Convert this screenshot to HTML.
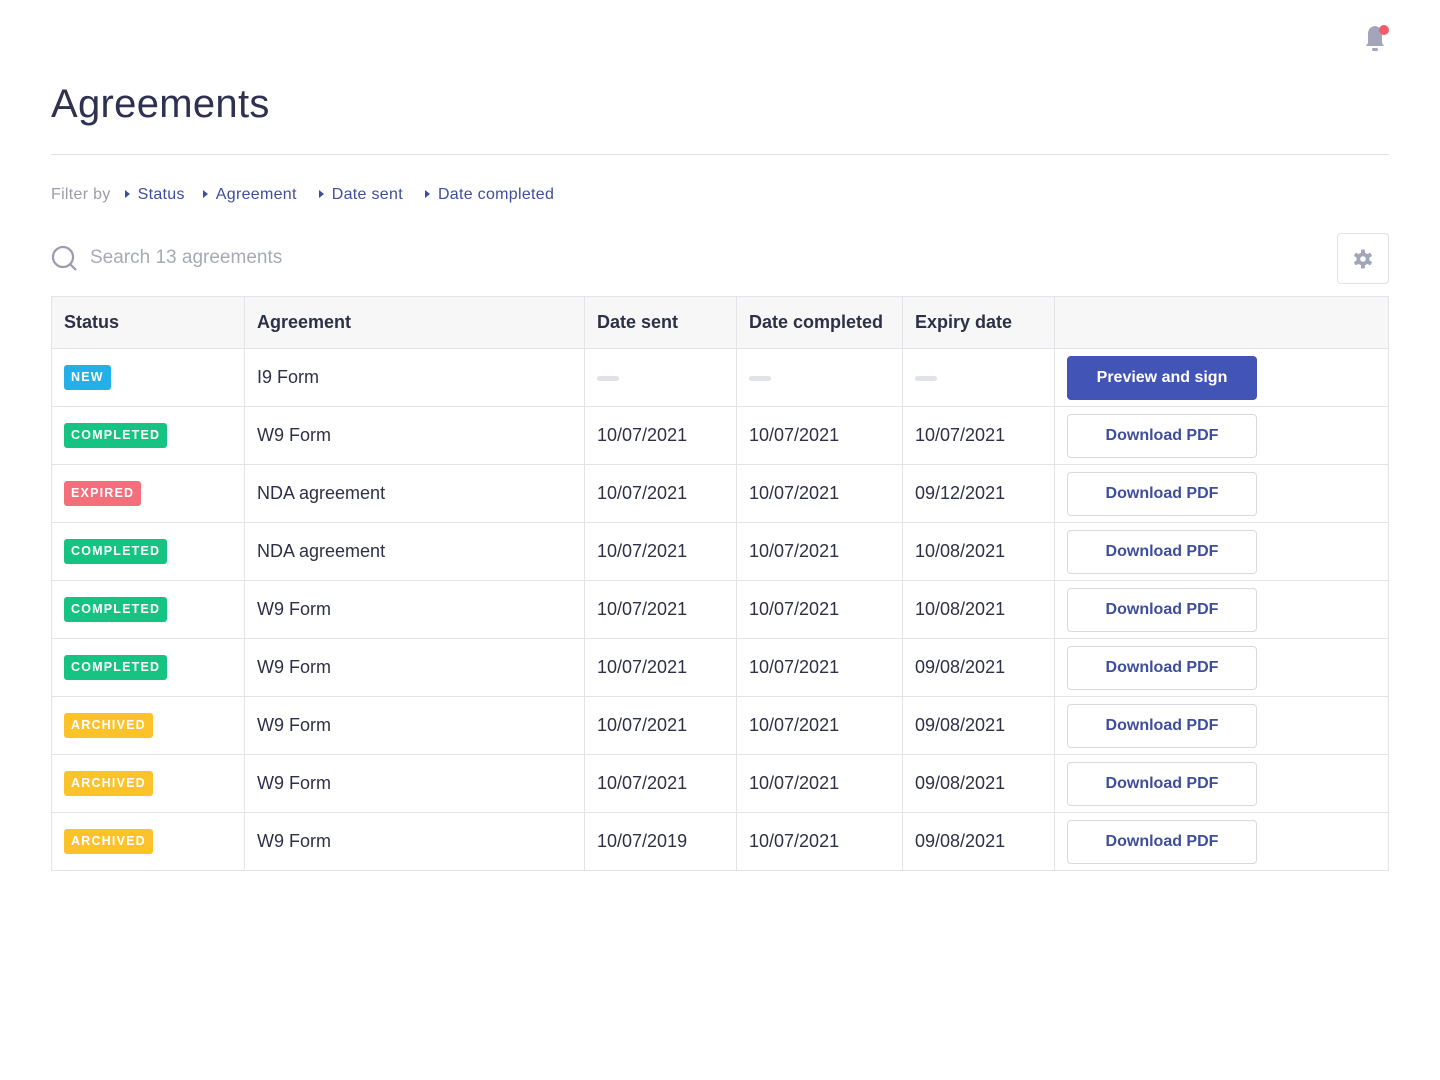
<!DOCTYPE html>
<html><head><meta charset="utf-8"><style>
*{box-sizing:border-box;margin:0;padding:0}
body{width:1440px;height:1080px;background:#fff;font-family:"Liberation Sans",sans-serif;color:#2d3047;position:relative;overflow:hidden}
h1{position:absolute;left:51px;top:82px;font-size:40px;font-weight:400;color:#2e3150;letter-spacing:0.3px}
.hr{position:absolute;left:51px;top:154px;width:1338px;height:1px;background:#dfe0e4}
.filter{position:absolute;left:51px;top:186px;font-size:16px;color:#9a9cae;letter-spacing:0.3px}
.filter span{color:#3e4e9c;margin-left:18px}
.filter span.s1{margin-left:14px}
.filter span.s3,.filter span.s4{margin-left:22px}
.filter span:before{content:"";display:inline-block;border-left:5px solid #3e4e9c;border-top:4px solid transparent;border-bottom:4px solid transparent;margin-right:8px;vertical-align:1px}
.search{position:absolute;left:90px;top:247px;font-size:19px;color:#a7a9b8}
.gear{position:absolute;left:1337px;top:233px;width:52px;height:51px;border:1px solid #e0e1e5;border-radius:4px}
table{position:absolute;left:51px;top:296px;width:1338px;border-collapse:collapse;border:1px solid #e3e4e7}
th,td{border:1px solid #e3e4e7;text-align:left;padding:0 12px;font-size:18px}
th{height:52px;background:#f7f7f8;font-weight:600;color:#2d3047}
td{height:58px;color:#2d3047}
.b{display:inline-block;height:25px;line-height:25px;padding:0 7px;border-radius:3px;color:#fff;font-size:12.5px;font-weight:700;letter-spacing:1.2px}
.n{background:#23b0ea}.c{background:#16c383}.e{background:#f26f7b}.a{background:#fbc229}
.btn{display:inline-block;width:190px;height:44px;line-height:42px;text-align:center;border:1px solid #d9dae0;border-radius:4px;color:#3e4e9c;font-size:16px;font-weight:600}
.p{background:#4354b7;color:#fff;border-color:#4354b7}
.d{display:inline-block;width:22px;height:5px;border-radius:3px;background:#e2e3e8;vertical-align:middle}
</style></head><body>
<svg style="position:absolute;left:1362px;top:22px" width="30" height="32" viewBox="0 0 30 32"><path d="M4 24 L6 21 L6 12 Q6 5 13 4 Q20 5 20 12 L20 21 L22 24 Z" fill="#a3a6bb"/><rect x="10" y="26" width="6" height="3" rx="1.5" fill="#a3a6bb"/><circle cx="22" cy="8" r="5" fill="#f15b6c"/></svg>
<h1>Agreements</h1>
<div class="hr"></div>
<div class="filter">Filter by<span class="s1">Status</span><span class="s2">Agreement</span><span class="s3">Date sent</span><span class="s4">Date completed</span></div>
<svg style="position:absolute;left:51px;top:245px" width="28" height="28" viewBox="0 0 28 28"><circle cx="12" cy="12" r="10" fill="none" stroke="#9a9cae" stroke-width="2.2"/><line x1="19" y1="19" x2="25" y2="25" stroke="#9a9cae" stroke-width="2.2"/></svg>
<div class="search">Search 13 agreements</div>
<div class="gear"><svg style="position:absolute;left:15px;top:15px" width="20" height="20" viewBox="0 0 20 20"><g fill="#a3a6bb"><circle cx="10" cy="10" r="6.5"/><rect x="8" y="0.5" width="4" height="19" rx="1"/><rect x="8" y="0.5" width="4" height="19" rx="1" transform="rotate(60 10 10)"/><rect x="8" y="0.5" width="4" height="19" rx="1" transform="rotate(120 10 10)"/></g><circle cx="10" cy="10" r="2.8" fill="#fff"/></svg></div>
<table>
<tr><th style="width:193px">Status</th><th style="width:340px">Agreement</th><th style="width:152px">Date sent</th><th style="width:166px">Date completed</th><th style="width:152px">Expiry date</th><th></th></tr>
<tr><td><span class="b n">NEW</span></td><td>I9 Form</td><td><span class="d"></span></td><td><span class="d"></span></td><td><span class="d"></span></td><td><span class="btn p">Preview and sign</span></td></tr>
<tr><td><span class="b c">COMPLETED</span></td><td>W9 Form</td><td>10/07/2021</td><td>10/07/2021</td><td>10/07/2021</td><td><span class="btn">Download PDF</span></td></tr>
<tr><td><span class="b e">EXPIRED</span></td><td>NDA agreement</td><td>10/07/2021</td><td>10/07/2021</td><td>09/12/2021</td><td><span class="btn">Download PDF</span></td></tr>
<tr><td><span class="b c">COMPLETED</span></td><td>NDA agreement</td><td>10/07/2021</td><td>10/07/2021</td><td>10/08/2021</td><td><span class="btn">Download PDF</span></td></tr>
<tr><td><span class="b c">COMPLETED</span></td><td>W9 Form</td><td>10/07/2021</td><td>10/07/2021</td><td>10/08/2021</td><td><span class="btn">Download PDF</span></td></tr>
<tr><td><span class="b c">COMPLETED</span></td><td>W9 Form</td><td>10/07/2021</td><td>10/07/2021</td><td>09/08/2021</td><td><span class="btn">Download PDF</span></td></tr>
<tr><td><span class="b a">ARCHIVED</span></td><td>W9 Form</td><td>10/07/2021</td><td>10/07/2021</td><td>09/08/2021</td><td><span class="btn">Download PDF</span></td></tr>
<tr><td><span class="b a">ARCHIVED</span></td><td>W9 Form</td><td>10/07/2021</td><td>10/07/2021</td><td>09/08/2021</td><td><span class="btn">Download PDF</span></td></tr>
<tr><td><span class="b a">ARCHIVED</span></td><td>W9 Form</td><td>10/07/2019</td><td>10/07/2021</td><td>09/08/2021</td><td><span class="btn">Download PDF</span></td></tr>
</table>
</body></html>
